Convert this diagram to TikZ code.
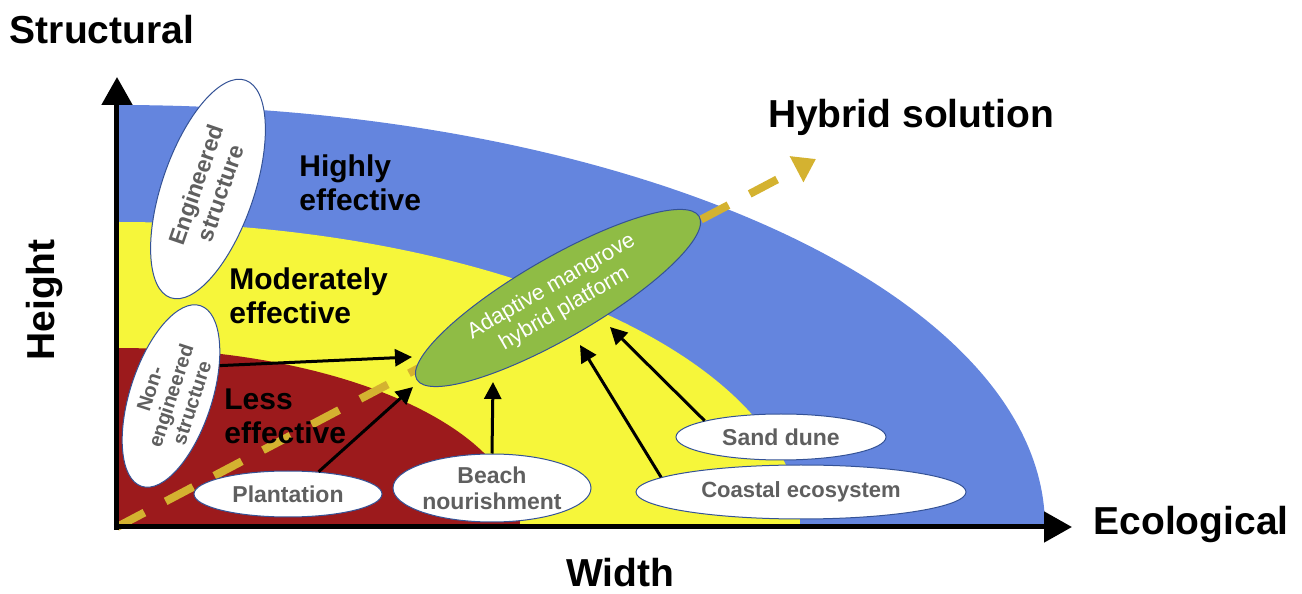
\documentclass[tikz,border=0pt]{standalone}
\usepackage{fontspec}
\setmainfont{Liberation Sans}
\usetikzlibrary{arrows.meta,shapes.geometric}
\definecolor{zoneBlue}{RGB}{100,133,222}
\definecolor{zoneYellow}{RGB}{246,246,58}
\definecolor{zoneRed}{RGB}{156,26,28}
\definecolor{mangroveGreen}{RGB}{143,188,69}
\definecolor{ovalBorder}{RGB}{52,82,150}
\definecolor{ovalText}{RGB}{95,95,95}
\definecolor{hybridGold}{RGB}{212,178,48}

\begin{document}
\begin{tikzpicture}[x=0.5pt,y=0.5pt,
  oval/.style={ellipse,draw=ovalBorder,line width=0.5pt,fill=white,inner sep=0pt,align=center,text=ovalText,font=\fontsize{11.5}{13}\selectfont\bfseries},
  axis/.style={line width=2.5pt,-{Triangle[length=14pt,width=15pt]}},
  arrow/.style={line width=1.5pt,-{Triangle[length=8.5pt,width=8.5pt]}},
  big/.style={inner sep=0pt,font=\fontsize{19.5}{22}\selectfont\bfseries},
  zone/.style={align=left,anchor=west,inner sep=0pt,font=\fontsize{15}{17}\selectfont\bfseries}
]
  \useasboundingbox (-117,-67) rectangle (1185,527);
  % effectiveness zones
  \fill[zoneBlue] (0,0) -- (0,422) arc[start angle=90,end angle=0,x radius=928,y radius=422] -- cycle;
  \fill[zoneYellow] (0,0) -- (0,305) arc[start angle=90,end angle=0,x radius=683,y radius=305] -- cycle;
  \fill[zoneRed] (0,0) -- (0,179) arc[start angle=90,end angle=0,x radius=403,y radius=179] -- cycle;
  \coordinate (origin) at (0,0);
  \coordinate (ytip) at (0,450);
  \coordinate (xtip) at (955,0);
  \coordinate (goldtip) at (699,368);
  \draw[line width=4pt,hybridGold,dash pattern=on 15.5pt off 12pt,-{Triangle[length=11pt,width=14pt]}] (origin) -- (goldtip);
  \draw[axis] (0,-3) -- (ytip);
  \draw[axis] (-3,0) -- (xtip);
  % axis labels
  \node[big] (structural) at (-15,497) {Structural};
  \node[big,rotate=90] (height) at (-72,227) {Height};
  \node[big] (width) at (503,-46) {Width};
  \node[big] (ecological) at (1074,2) {Ecological};
  \node[big] (hybridsol) at (794,410) {Hybrid solution};
  \node[zone] (high) at (182,344) {Highly\\effective};
  \node[zone] (moderate) at (112,231) {Moderately\\effective};
  \node[zone] (less) at (107,111) {Less\\effective};
  % measures
  \node[oval,rotate=71,minimum width=115pt,minimum height=46pt] (eng) at (91,338) {Engineered\\structure};
  \node[oval,rotate=72,minimum width=95pt,minimum height=41pt,inner ysep=-2pt,font=\fontsize{10}{11}\selectfont\bfseries] (noneng) at (54,131) {Non-\\engineered\\structure};
  \node[oval,fill=mangroveGreen,text=white,rotate=30,minimum width=163pt,minimum height=40pt,font=\fontsize{11}{13}\selectfont] (hybrid) at (441,229) {Adaptive mangrove\\hybrid platform};
  \node[oval,minimum width=94pt,minimum height=23pt] (plant) at (171,33) {Plantation};
  \node[oval,minimum width=99pt,minimum height=34pt] (beach) at (375,39) {Beach\\nourishment};
  \node[oval,minimum width=105pt,minimum height=23pt] (dune) at (664,90) {Sand dune};
  \node[oval,minimum width=165pt,minimum height=27pt,font=\fontsize{11}{13}\selectfont\bfseries] (coastal) at (684,35) {Coastal ecosystem};
  \coordinate (t1) at (295,170);
  \coordinate (t2) at (296,140);
  \coordinate (t3) at (376,145);
  \coordinate (t4) at (463,182);
  \coordinate (t5) at (493,200);
  \draw[arrow] (noneng.-40) -- (t1);
  \draw[arrow] (plant.36) -- (t2);
  \draw[arrow] (beach.north) -- (t3);
  \draw[arrow] (coastal.174) -- (t4);
  \draw[arrow] (dune.168) -- (t5);
\end{tikzpicture}
\end{document}
